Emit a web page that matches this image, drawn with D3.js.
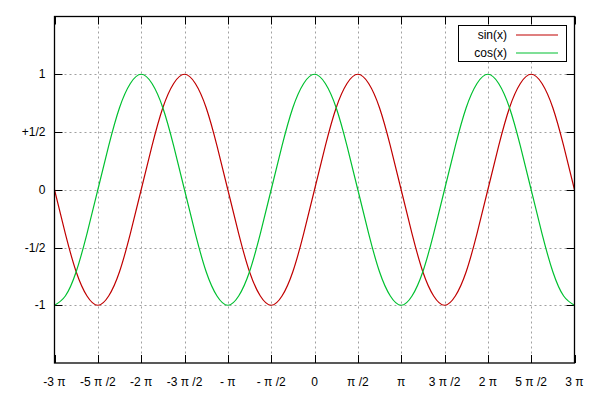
<!DOCTYPE html>
<html>
<head>
<meta charset="utf-8">
<script src="https://cdn.jsdelivr.net/npm/d3@7"></script>
<style>
  body { margin: 0; background: #fff; }
  svg text { font-family: "Liberation Sans", Arial, sans-serif; font-size: 12px; fill: #000; }
</style>
</head>
<body>
<svg width="600" height="400"></svg>
<script>
// x positions in steps of pi/8, from -3pi to 3pi
var steps = [-24,-23,-22,-21,-20,-19,-18,-17,-16,-15,-14,-13,-12,-11,-10,-9,-8,-7,-6,-5,-4,-3,-2,-1,
             0,1,2,3,4,5,6,7,8,9,10,11,12,13,14,15,16,17,18,19,20,21,22,23,24];

var sinValues = [0,-.38,-.71,-.92,-1,-.92,-.71,-.38,0,.38,.71,.92,1,.92,.71,.38,
                 0,-.38,-.71,-.92,-1,-.92,-.71,-.38,0,.38,.71,.92,1,.92,.71,.38,
                 0,-.38,-.71,-.92,-1,-.92,-.71,-.38,0,.38,.71,.92,1,.92,.71,.38,0];

var cosValues = [-1,-.92,-.71,-.38,0,.38,.71,.92,1,.92,.71,.38,0,-.38,-.71,-.92,
                 -1,-.92,-.71,-.38,0,.38,.71,.92,1,.92,.71,.38,0,-.38,-.71,-.92,
                 -1,-.92,-.71,-.38,0,.38,.71,.92,1,.92,.71,.38,0,-.38,-.71,-.92,-1];

// ticks in units of pi/2
var xTicks = [-6,-5,-4,-3,-2,-1,0,1,2,3,4,5,6];
var xTickLabels = ["-3 \u03c0","-5 \u03c0 /2","-2 \u03c0","-3 \u03c0 /2","- \u03c0","- \u03c0 /2","0",
                   "\u03c0 /2","\u03c0","3 \u03c0 /2","2 \u03c0","5 \u03c0 /2","3 \u03c0"];
var yTicks = [-1,-0.5,0,0.5,1];
var yTickLabels = ["-1","-1/2","0","+1/2","1"];

var seriesNames = ["sin(x)","cos(x)"];
var seriesColors = ["#c00000","#00c030"];

var svg = d3.select("svg"),
    width = +svg.attr("width"),
    height = +svg.attr("height");

var margin = {top: 16.5, right: 25.5, bottom: 37, left: 54.5};
var x0 = margin.left, x1 = width - margin.right,
    y0 = margin.top, y1 = height - margin.bottom;

// x in units of pi
var x = d3.scaleLinear().domain([-3, 3]).range([x0, x1]);
var y = d3.scaleLinear().domain([-1.5, 1.5]).range([y1, y0]);

svg.append("clipPath").attr("id", "clip")
  .append("rect").attr("x", x0).attr("y", y0).attr("width", x1 - x0).attr("height", y1 - y0);

// grid
var grid = svg.append("g")
    .attr("stroke", "#a0a0a0")
    .attr("stroke-width", 1)
    .attr("stroke-dasharray", "2,3");

grid.selectAll(".gx")
  .data(xTicks.slice(1, -1))
  .enter().append("line")
    .attr("x1", d => Math.round(x(d / 2)) + 0.5)
    .attr("x2", d => Math.round(x(d / 2)) + 0.5)
    .attr("y1", y0).attr("y2", y1);

grid.selectAll(".gy")
  .data(yTicks)
  .enter().append("line")
    .attr("y1", d => Math.round(y(d)) + 0.5)
    .attr("y2", d => Math.round(y(d)) + 0.5)
    .attr("x1", x0).attr("x2", x1);

// tick marks (inward, mirrored)
var ticks = svg.append("g").attr("stroke", "#000").attr("stroke-width", 1);
var tl = 8;
xTicks.forEach(function(d) {
  var px = Math.round(x(d / 2)) + 0.5;
  ticks.append("line").attr("x1", px).attr("x2", px).attr("y1", y1).attr("y2", y1 - tl);
  ticks.append("line").attr("x1", px).attr("x2", px).attr("y1", y0).attr("y2", y0 + tl);
});
yTicks.forEach(function(d) {
  var py = Math.round(y(d)) + 0.5;
  ticks.append("line").attr("y1", py).attr("y2", py).attr("x1", x0).attr("x2", x0 + tl);
  ticks.append("line").attr("y1", py).attr("y2", py).attr("x1", x1).attr("x2", x1 - tl);
});

// tick labels
svg.append("g").selectAll("text")
  .data(xTicks)
  .enter().append("text")
    .attr("x", d => x(d / 2))
    .attr("y", y1 + 23)
    .attr("text-anchor", "middle")
    .text((d, i) => xTickLabels[i]);

svg.append("g").selectAll("text")
  .data(yTicks)
  .enter().append("text")
    .attr("x", x0 - 9)
    .attr("y", d => y(d) + 4)
    .attr("text-anchor", "end")
    .text((d, i) => yTickLabels[i]);

// curves
var line = d3.line()
    .x((d, i) => x(steps[i] / 8))
    .y(d => y(d))
    .curve(d3.curveNatural);

svg.append("g").attr("clip-path", "url(#clip)")
  .selectAll("path")
  .data([sinValues, cosValues])
  .enter().append("path")
    .attr("d", line)
    .attr("fill", "none")
    .attr("stroke", (d, i) => seriesColors[i])
    .attr("stroke-width", 1.2);

// frame
svg.append("rect")
    .attr("x", x0).attr("y", y0)
    .attr("width", x1 - x0).attr("height", y1 - y0)
    .attr("fill", "none")
    .attr("stroke", "#000")
    .attr("stroke-width", 1.3);

// legend
var legend = svg.append("g");
legend.append("rect")
    .attr("x", 458.5).attr("y", 25.5)
    .attr("width", 108).attr("height", 36)
    .attr("fill", "#fff")
    .attr("stroke", "#000")
    .attr("stroke-width", 1);

seriesNames.forEach(function(name, i) {
  var ly = 35 + i * 18;
  legend.append("text")
      .attr("x", 507).attr("y", ly + 4)
      .attr("text-anchor", "end")
      .text(name);
  legend.append("line")
      .attr("x1", 516).attr("x2", 558)
      .attr("y1", ly).attr("y2", ly)
      .attr("stroke", seriesColors[i])
      .attr("stroke-width", 1.2);
});
</script>
</body>
</html>
